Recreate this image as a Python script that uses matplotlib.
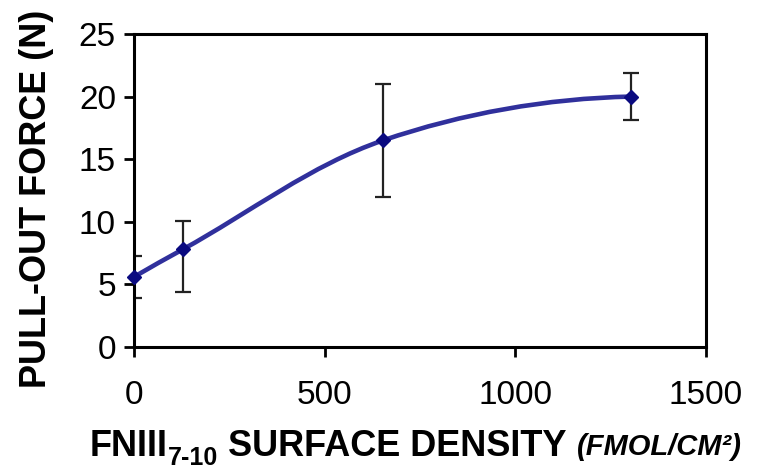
import numpy as np
import matplotlib
matplotlib.use('Agg')
import matplotlib.pyplot as plt
from matplotlib.path import Path
from matplotlib.patches import PathPatch

plt.rcParams['font.family'] = ['Liberation Sans', 'DejaVu Sans']

# data
density = [0, 128, 653, 1303]
force = [5.6, 7.8, 16.5, 20.0]
err_low = [1.7, 3.4, 4.5, 1.85]
err_high = [1.7, 2.3, 4.5, 1.85]

x_ticks = [0, 500, 1000, 1500]
y_ticks = [0, 5, 10, 15, 20, 25]

line_color = '#30309c'
marker_color = '#0a0a80'

fig = plt.figure(figsize=(7.72, 4.72), dpi=100)
ax = fig.add_axes([0.1736, 0.2648, 0.7409, 0.6632])
ax.set_xlim(0, 1500)
ax.set_ylim(0, 25)

# smoothed line: cubic Bezier through the points, tangents worked out in
# screen-like units so uneven x spacing does not make the curve wiggle
sx, sy = 572 / 1500, 313 / 25
P = np.column_stack([np.array(density) * sx, np.array(force) * sy])
n = len(P)
chords = P[1:] - P[:-1]
chord_ang = np.arctan2(chords[:, 1], chords[:, 0])
ang = np.zeros(n)
for i in range(1, n - 1):
    d = P[i + 1] - P[i - 1]
    ang[i] = np.arctan2(d[1], d[0])
ang[0] = 2 * chord_ang[0] - ang[1]
ang[-1] = 2 * chord_ang[-1] - ang[-2]
verts = [tuple(P[0])]
codes = [Path.MOVETO]
for i in range(n - 1):
    L = np.hypot(*chords[i]) / 3
    c1 = P[i] + L * np.array([np.cos(ang[i]), np.sin(ang[i])])
    c2 = P[i + 1] - L * np.array([np.cos(ang[i + 1]), np.sin(ang[i + 1])])
    verts += [tuple(c1), tuple(c2), tuple(P[i + 1])]
    codes += [Path.CURVE4] * 3
verts = [(vx / sx, vy / sy) for vx, vy in verts]
ax.add_patch(PathPatch(Path(verts, codes), fill=False, edgecolor=line_color,
                       lw=3.3, capstyle='round', zorder=3))

ax.errorbar(density, force, yerr=[err_low, err_high], fmt='none', ecolor='#222222',
            elinewidth=1.6, capsize=6, capthick=1.6, zorder=2)
ax.plot(density, force, 'D', color=marker_color, ms=7, zorder=4, clip_on=False)

ax.set_xticks(x_ticks)
ax.set_yticks(y_ticks)
for s in ax.spines.values():
    s.set_linewidth(2.2)
ax.tick_params(axis='both', direction='out', width=2, length=7, labelsize=24)
ax.tick_params(axis='x', pad=17)
ax.tick_params(axis='y', pad=6)

ax.set_ylabel('PULL-OUT FORCE (N)', fontsize=26, fontweight='bold')
ax.yaxis.set_label_coords(-0.14, 0.473)

# x label built from pieces: main text, subscript, italic units
t1 = fig.text(90 / 772, 1 - 456 / 472, 'FNIII', fontsize=26, fontweight='bold',
              va='baseline', ha='left')
t2 = ax.annotate('7-10', xy=(1, 0), xycoords=t1, xytext=(0, -4),
                 textcoords='offset points', fontsize=18, fontweight='bold',
                 va='bottom', ha='left', annotation_clip=False)
t3 = ax.annotate(' SURFACE DENSITY', xy=(1, 0), xycoords=(t2, t1), xytext=(0, 0),
                 textcoords='offset points', fontsize=26, fontweight='bold',
                 va='bottom', ha='left', annotation_clip=False)
t4 = ax.annotate('(FMOL/CM\u00b2)', xy=(1, 0), xycoords=t3, xytext=(7, 2),
                 textcoords='offset points', fontsize=21, fontweight='bold',
                 fontstyle='italic', va='bottom', ha='left', annotation_clip=False)

fig.savefig('out.png', dpi=100)
